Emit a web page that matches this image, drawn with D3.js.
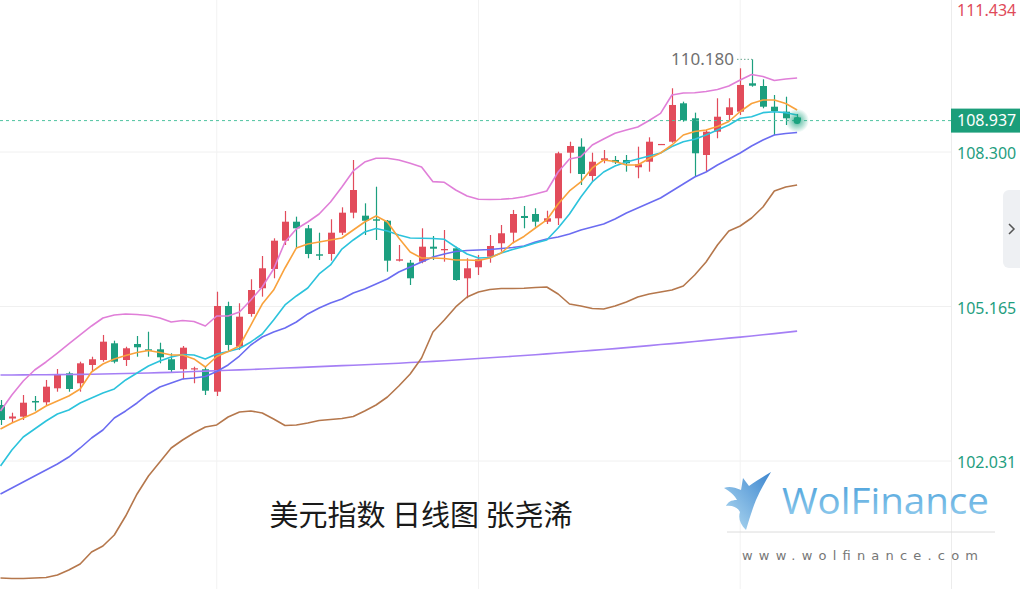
<!DOCTYPE html>
<html><head><meta charset="utf-8">
<script src="https://cdn.jsdelivr.net/npm/d3@7"></script>
<style>html,body{margin:0;padding:0;background:#fff;overflow:hidden}</style>
</head><body>
<svg id="c" width="1020" height="589"></svg>
<script>
// ---------------- DATA ----------------
const open = [103.167,102.893,102.930,103.249,103.222,103.506,103.810,103.608,103.979,104.080,
104.419,104.080,104.405,104.297,104.297,104.095,103.892,103.888,103.892,103.437,
105.176,104.350,105.014,105.535,105.927,106.501,106.886,106.752,106.225,106.231,
106.663,107.069,107.008,106.935,106.906,106.095,106.054,106.075,106.379,106.306,
106.346,105.738,105.961,106.176,106.448,106.663,107.002,107.042,106.886,106.955,
108.286,108.408,107.813,108.138,108.138,108.138,107.990,108.103,108.442,108.509,
109.288,108.984,108.239,108.712,109.051,109.118,109.694,109.639,109.219,109.118,
109.000];
const high = [103.269,103.011,103.370,103.350,103.675,103.898,103.843,104.046,104.147,104.588,
104.472,104.350,104.567,104.654,104.431,104.216,104.364,103.944,103.944,105.466,
105.263,105.231,105.718,106.190,106.549,107.103,106.988,106.819,106.663,106.935,
107.178,108.138,107.259,107.596,106.921,106.413,106.109,106.752,106.596,106.718,
106.379,106.144,106.211,106.616,106.819,107.124,107.205,107.158,107.109,108.306,
108.509,108.578,108.286,108.341,108.219,108.239,108.408,108.598,108.463,109.593,
109.321,109.098,108.747,109.390,109.390,109.998,110.180,109.775,109.457,109.422,
109.071];
const low = [102.762,102.802,102.863,103.052,103.167,103.437,103.437,103.437,103.843,104.046,
104.013,103.959,104.147,104.147,104.013,103.823,103.689,103.608,103.370,103.350,
104.249,104.283,104.959,105.365,105.738,106.413,106.346,106.144,106.109,106.095,
106.616,106.955,106.616,106.515,105.872,106.079,105.602,106.042,106.109,106.075,
105.689,105.332,105.805,106.054,106.278,106.448,106.752,106.785,106.839,106.819,
107.868,107.631,107.698,108.071,108.057,107.901,107.767,107.901,108.442,108.489,
108.915,107.799,107.901,108.578,108.949,109.051,109.625,109.187,108.645,108.848,
108.868];
const close = [102.863,102.934,103.214,103.218,103.539,103.776,103.492,104.013,104.095,104.452,
104.046,104.318,104.338,104.269,104.135,103.877,104.330,103.912,103.457,105.176,
104.385,104.959,105.500,105.941,106.501,106.886,106.752,106.231,106.196,106.663,
107.069,107.529,106.906,106.906,106.095,106.123,105.738,106.379,106.338,106.332,
105.703,105.941,106.123,106.393,106.651,107.042,106.961,106.886,106.955,108.274,
108.422,107.854,108.103,108.172,108.091,108.071,108.051,108.509,108.463,109.254,
108.949,108.274,108.712,109.016,109.207,109.660,109.645,109.219,109.132,108.984,
108.937];
const ma5 = [102.680,102.802,102.904,103.005,103.147,103.249,103.350,103.492,103.837,103.999,
104.101,104.172,104.232,104.273,104.232,104.182,104.182,104.101,103.938,104.151,
104.253,104.364,104.790,105.216,105.500,105.947,106.353,106.434,106.474,106.515,
106.555,106.718,106.880,107.002,106.880,106.555,106.271,106.150,106.150,106.140,
106.109,106.109,106.099,106.150,106.251,106.454,106.586,106.758,106.921,107.245,
107.509,107.692,107.976,108.138,108.107,108.036,108.036,108.168,108.280,108.442,
108.645,108.716,108.747,108.818,108.919,109.122,109.284,109.355,109.355,109.284,
109.152];
const ma10 = [101.930,102.254,102.518,102.680,102.843,102.985,103.066,103.208,103.309,103.411,
103.492,103.675,103.817,103.959,104.060,104.141,104.192,104.182,104.101,104.202,
104.253,104.314,104.446,104.608,104.892,105.196,105.379,105.541,105.825,106.008,
106.332,106.515,106.677,106.748,106.697,106.616,106.555,106.549,106.545,106.529,
106.373,106.231,106.150,106.160,106.251,106.322,106.383,106.454,106.515,106.758,
107.042,107.387,107.692,107.894,108.016,108.097,108.158,108.219,108.280,108.412,
108.509,108.558,108.645,108.747,108.848,108.984,109.016,109.098,109.118,109.098,
109.051];
const bollMid = [101.362,101.483,101.605,101.727,101.849,101.970,102.112,102.295,102.498,102.660,
102.904,103.046,103.208,103.391,103.533,103.614,103.695,103.715,103.746,103.847,
103.979,104.161,104.385,104.547,104.648,104.730,104.851,105.014,105.135,105.237,
105.318,105.440,105.521,105.622,105.724,105.866,105.967,106.069,106.170,106.231,
106.282,106.302,106.312,106.322,106.342,106.363,106.393,106.474,106.535,106.576,
106.637,106.718,106.779,106.839,106.941,107.063,107.164,107.266,107.367,107.509,
107.651,107.793,107.894,108.036,108.158,108.280,108.422,108.544,108.645,108.676,
108.696];
const bollUp = [103.046,103.370,103.654,103.877,104.040,104.222,104.405,104.588,104.770,104.932,
104.993,105.014,105.003,104.983,104.932,104.851,104.882,104.861,104.770,104.973,
104.973,105.054,105.298,105.561,105.927,106.474,106.738,106.880,107.042,107.286,
107.590,107.915,108.097,108.172,108.172,108.138,108.071,107.996,107.698,107.685,
107.529,107.408,107.341,107.337,107.341,107.357,107.393,107.448,107.509,107.894,
108.158,108.205,108.442,108.564,108.680,108.747,108.807,108.939,109.085,109.457,
109.497,109.503,109.528,109.568,109.639,109.761,109.873,109.832,109.751,109.781,
109.802];
const bollLow = [99.658,99.647,99.647,99.658,99.668,99.718,99.820,99.942,100.185,100.307,
100.530,100.915,101.362,101.727,102.011,102.295,102.457,102.599,102.721,102.762,
102.924,103.025,103.046,103.005,102.883,102.751,102.762,102.802,102.853,102.873,
102.893,102.934,103.046,103.167,103.330,103.553,103.796,104.121,104.648,104.892,
105.156,105.358,105.460,105.511,105.531,105.531,105.535,105.551,105.561,105.419,
105.216,105.176,105.125,105.115,105.176,105.257,105.358,105.419,105.460,105.500,
105.582,105.805,106.069,106.413,106.697,106.799,106.961,107.184,107.509,107.590,
107.631];
const maLong = [103.776,103.776,103.778,103.780,103.782,103.784,103.786,103.788,103.792,103.796,
103.800,103.806,103.812,103.817,103.823,103.829,103.837,103.847,103.855,103.863,
103.871,103.879,103.888,103.898,103.908,103.918,103.926,103.936,103.946,103.955,
103.965,103.975,103.985,103.995,104.005,104.015,104.028,104.040,104.052,104.066,
104.080,104.095,104.111,104.125,104.141,104.155,104.172,104.188,104.204,104.222,
104.239,104.257,104.275,104.293,104.311,104.332,104.352,104.372,104.393,104.413,
104.433,104.456,104.478,104.500,104.523,104.545,104.567,104.592,104.616,104.640,
104.665];
const yTicks = [102.031, 105.165, 108.300, 111.434];
const gridIdx = [19, 42, 65];
const highValue = 110.180;
const highIndex = 66;
const titleText = "美元指数 日线图 张尧浠";
const logoText = "WolFinance";
const logoUrl = "www.wolfinance.com";

// ---------------- SETUP ----------------
const W = 1020, H = 589, plotRight = 951;
const n = close.length;
const svg = d3.select("#c");
const x = d3.scaleLinear().domain([0, n - 1]).range([0.5, 797.1]);
const y = d3.scaleLinear().domain([102.031, 108.300]).range([461, 152]);
const RED = "#e24c5b", GREEN = "#1c9f7f";

const defs = svg.append("defs");
defs.append("clipPath").attr("id","plotClip").append("rect")
  .attr("x",0).attr("y",0).attr("width",plotRight).attr("height",H);
const rg = defs.append("radialGradient").attr("id","glow");
rg.append("stop").attr("offset","0%").attr("stop-color","#1aa37f").attr("stop-opacity",0.85);
rg.append("stop").attr("offset","45%").attr("stop-color","#1aa37f").attr("stop-opacity",0.45);
rg.append("stop").attr("offset","100%").attr("stop-color","#1aa37f").attr("stop-opacity",0);
const lg = defs.append("linearGradient").attr("id","logoGrad").attr("x1","0").attr("y1","0").attr("x2","0").attr("y2","1");
lg.append("stop").attr("offset","0%").attr("stop-color","#3f9ad8");
lg.append("stop").attr("offset","100%").attr("stop-color","#9fd3f0");
const lg2 = defs.append("linearGradient").attr("id","wolfGrad").attr("x1","1").attr("y1","0").attr("x2","0").attr("y2","1");
lg2.append("stop").attr("offset","0%").attr("stop-color","#3d86cf");
lg2.append("stop").attr("offset","100%").attr("stop-color","#b6def3");

// grid
const grid = svg.append("g");
grid.selectAll("line.h").data(yTicks).join("line")
  .attr("x1",0).attr("x2",plotRight).attr("y1",d=>y(d)).attr("y2",d=>y(d))
  .attr("stroke","#f0f0f0").attr("stroke-width",1);
grid.selectAll("line.v").data(gridIdx).join("line")
  .attr("x1",d=>x(d)).attr("x2",d=>x(d)).attr("y1",0).attr("y2",H)
  .attr("stroke","#f2f2f2").attr("stroke-width",1);
svg.append("line").attr("x1",plotRight+0.5).attr("x2",plotRight+0.5).attr("y1",0).attr("y2",H)
  .attr("stroke","#ececec");

// title
svg.append("text").attr("x",421).attr("y",513).attr("text-anchor","middle")
  .attr("dominant-baseline","central")
  .style("font-family","'Noto Sans CJK SC','Noto Sans',sans-serif").style("font-size","29px")
  .attr("fill","#1a1a1a").text(titleText);

// logo
const logo = svg.append("g");
logo.append("path").attr("fill","url(#wolfGrad)")
  .attr("d","M771,472 C763,477 757,480 749,486 L743,478 L741,490 C734,487 729,486 724,488 C731,492 735,496 737,500 C731,500 728,502 726,506 C733,505 738,508 740,512 C738,518 740,524 746,530 C749,520 752,510 756,500 C760,491 765,482 771,472 Z");
logo.append("text").attr("x",782).attr("y",514).attr("textLength",207).attr("lengthAdjust","spacingAndGlyphs")
  .style("font-family","'Open Sans','Lato',sans-serif").style("font-size","36px").attr("fill","url(#logoGrad)")
  .text(logoText);
logo.append("line").attr("x1",727).attr("x2",995).attr("y1",532).attr("y2",532).attr("stroke","#dcdcdc");
logo.append("text").attr("x",742).attr("y",560).attr("textLength",236)
  .style("font-family","'DejaVu Sans',sans-serif").style("font-size","13px").attr("fill","#777")
  .text(logoUrl);

// chevron tab
svg.append("rect").attr("x",1003).attr("y",190).attr("width",24).attr("height",78).attr("rx",6).attr("fill","#eef0f3");
svg.append("path").attr("d","M1009,224 L1014,229 L1009,234").attr("fill","none").attr("stroke","#555").attr("stroke-width",1.5);

// plot
const plot = svg.append("g").attr("clip-path","url(#plotClip)");
const idx = d3.range(n);
const bw = 7;
const cg = plot.append("g");
const col = i => close[i] >= open[i] ? RED : GREEN;
cg.selectAll("line.w").data(idx).join("line")
  .attr("x1",i=>Math.round(x(i))+0.5).attr("x2",i=>Math.round(x(i))+0.5)
  .attr("y1",i=>y(high[i])).attr("y2",i=>y(low[i]))
  .attr("stroke",col).attr("stroke-width",1.2);
cg.selectAll("rect").data(idx).join("rect")
  .attr("x",i=>Math.round(x(i))+0.5-bw/2).attr("width",bw)
  .attr("y",i=>y(Math.max(open[i],close[i])))
  .attr("height",i=>Math.max(1.2, Math.abs(y(open[i])-y(close[i]))))
  .attr("fill",col);

const line = arr => d3.line().x(i=>x(i)).y(i=>y(arr[i]))(idx);
const series = [
  [maLong,"#a57ff5"],[bollLow,"#b5774c"],[bollUp,"#e07fd8"],[bollMid,"#6b6cf1"],
  [ma10,"#2cc3dc"],[ma5,"#f9a23c"]
];
plot.selectAll("path.s").data(series).join("path")
  .attr("d",d=>line(d[0])).attr("fill","none").attr("stroke",d=>d[1]).attr("stroke-width",1.6)
  .attr("stroke-linejoin","round");

// last price line
const last = close[n-1];
plot.append("line").attr("x1",0).attr("x2",plotRight).attr("y1",y(last)).attr("y2",y(last))
  .attr("stroke","#4fc3a1").attr("stroke-width",1).attr("stroke-dasharray","3,3");

// high annotation
svg.append("line").attr("x1",737).attr("x2",Math.round(x(highIndex))).attr("y1",y(highValue)).attr("y2",y(highValue))
  .attr("stroke","#6aa890").attr("stroke-dasharray","1.5,2");
svg.append("text").attr("x",734).attr("y",y(highValue)).attr("dy","0.36em").attr("text-anchor","end")
  .style("font-family","'Noto Sans',sans-serif").style("font-size","17px").attr("fill","#707070")
  .text(d3.format(".3f")(highValue));

// glow
svg.append("circle").attr("cx",x(n-1)).attr("cy",y(last)).attr("r",12).attr("fill","url(#glow)");
svg.append("circle").attr("cx",x(n-1)).attr("cy",y(last)).attr("r",3.5).attr("fill","#1aa37f");

// axis
const axis = d3.axisRight(y).tickValues(yTicks).tickSize(0).tickPadding(6).tickFormat(d3.format(".3f"));
const ag = svg.append("g").attr("transform",`translate(${plotRight},0)`).call(axis);
ag.select(".domain").remove();
ag.selectAll(".tick").attr("transform",d=>`translate(0,${Math.max(y(d)+2,11)})`);
ag.selectAll(".tick text").style("font-family","'Noto Sans',sans-serif").style("font-size","16px")
  .attr("fill",d=>d===d3.max(yTicks)?"#e04a5a":"#1f9e80");

// last price label
const lbl = svg.append("g").attr("transform",`translate(${plotRight},${y(last)})`);
lbl.append("rect").attr("x",0).attr("y",-12).attr("width",W-plotRight).attr("height",24).attr("fill","#1b9e7a");
lbl.append("text").attr("x",6).attr("dy","0.35em").style("font-family","'Noto Sans',sans-serif").style("font-size","16px")
  .attr("fill","#fff").text(d3.format(".3f")(last));
</script>
</body></html>
